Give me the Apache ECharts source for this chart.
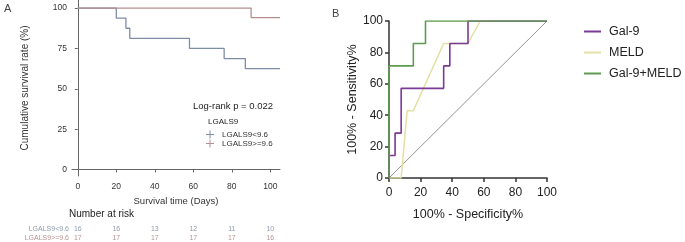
<!DOCTYPE html>
<html>
<head>
<meta charset="utf-8">
<script src="https://cdn.jsdelivr.net/npm/echarts@6/dist/echarts.min.js"></script>
<style>
  html, body { margin: 0; padding: 0; background: #fff; }
  #main { width: 685px; height: 242px; }
</style>
</head>
<body>
<div id="main"></div>
<script>
// ---- panel A: Kaplan-Meier ----
var kmTicksX = [0, 20, 40, 60, 80, 100];
var kmTicksY = [0, 25, 50, 75, 100];
var lowTimes = [0, 20, 25, 27, 58, 76, 87, 105];
var lowSurv = [100, 93.75, 87.5, 81.25, 75, 68.75, 62.5, 62.5];
var highTimes = [0, 90, 105];
var highSurv = [100, 94.1, 94.1];
var riskTimes = [0, 20, 40, 60, 80, 100];
var riskLow = [16, 16, 13, 12, 11, 10];
var riskHigh = [17, 17, 17, 17, 17, 16];

// ---- panel B: ROC ----
var gal9X = [0, 0, 3.85, 3.85, 7.69, 7.69, 34.6, 34.6, 38.5, 38.5, 50, 50, 100];
var gal9Y = [0, 14.3, 14.3, 28.6, 28.6, 57.1, 57.1, 71.4, 71.4, 85.7, 85.7, 100, 100];
var meldX = [0, 7.69, 11.5, 15.4, 34.6, 50, 57.7, 100];
var meldY = [0, 0, 42.9, 42.9, 85.7, 85.7, 100, 100];
var combX = [0, 0, 15.4, 15.4, 23.1, 23.1, 100];
var combY = [0, 71.4, 71.4, 85.7, 85.7, 100, 100];

var FONT = 'Liberation Sans, Arial, sans-serif';

function pairs(xs, ys) {
  return xs.map(function (x, i) { return [x, ys[i]]; });
}

var chart = echarts.init(document.getElementById('main'));

var option = {
  animation: false,
  textStyle: { fontFamily: FONT },
  grid: [
    { left: 72, top: 0, width: 208, height: 176 },
    { left: 389, top: 21, width: 158, height: 157 }
  ],
  xAxis: [
    {
      type: 'value', gridIndex: 0, min: -3, max: 105,
      name: 'Survival time (Days)', nameLocation: 'middle', nameGap: 20,
      nameTextStyle: { fontSize: 9.5, color: '#333' },
      axisLine: { show: true, lineStyle: { color: '#666', width: 1 } },
      axisTick: { show: true, length: 3, customValues: kmTicksX, lineStyle: { color: '#666' } },
      axisLabel: { customValues: kmTicksX, fontSize: 8.5, color: '#333', margin: 6 },
      splitLine: { show: false }
    },
    {
      type: 'value', gridIndex: 1, min: 0, max: 100, interval: 20,
      name: '100% - Specificity%', nameLocation: 'middle', nameGap: 30,
      nameTextStyle: { fontSize: 12.5, color: '#222' },
      axisLine: { show: true, onZero: false, lineStyle: { color: '#333', width: 1.5 } },
      axisTick: { show: true, length: 4, lineStyle: { color: '#333', width: 1.5 } },
      axisLabel: { fontSize: 12, color: '#222', margin: 9 },
      splitLine: { show: false }
    }
  ],
  yAxis: [
    {
      type: 'value', gridIndex: 0, min: -4, max: 105,
      name: 'Cumulative survival rate (%)', nameLocation: 'middle', nameGap: 42,
      nameTextStyle: { fontSize: 10, color: '#333' },
      axisLine: { show: true, lineStyle: { color: '#666', width: 1 } },
      axisTick: { show: true, length: 3, customValues: kmTicksY, lineStyle: { color: '#666' } },
      axisLabel: { customValues: kmTicksY, fontSize: 8.5, color: '#333', margin: 5 },
      splitLine: { show: false }
    },
    {
      type: 'value', gridIndex: 1, min: 0, max: 100, interval: 20,
      name: '100% - Sensitivity%', nameLocation: 'middle', nameGap: 30,
      nameTextStyle: { fontSize: 12.5, color: '#222' },
      axisLine: { show: true, onZero: false, lineStyle: { color: '#333', width: 1.5 } },
      axisTick: { show: true, length: 4, lineStyle: { color: '#333', width: 1.5 } },
      axisLabel: { fontSize: 12, color: '#222', margin: 6 },
      splitLine: { show: false }
    }
  ],
  legend: [
    {
      data: ['LGALS9<9.6', 'LGALS9>=9.6'],
      orient: 'vertical', left: 206, top: 130,
      itemWidth: 8, itemHeight: 8, itemGap: 0, padding: 0,
      icon: 'path://M3.5,0h1v3.5h3.5v1h-3.5v3.5h-1v-3.5h-3.5v-1h3.5z',
      textStyle: { fontSize: 8, color: '#333', lineHeight: 9, padding: [0, 0, 0, 3] }
    },
    {
      data: ['Gal-9', 'MELD', 'Gal-9+MELD'],
      orient: 'vertical', left: 579, top: 19,
      itemWidth: 17, itemHeight: 2, itemGap: 6, icon: 'rect',
      textStyle: { fontSize: 12.5, color: '#222', lineHeight: 15, padding: [0, 0, 0, 3] }
    }
  ],
  series: [
    {
      name: 'LGALS9<9.6', type: 'line', step: 'end', xAxisIndex: 0, yAxisIndex: 0,
      data: pairs(lowTimes, lowSurv), showSymbol: false,
      lineStyle: { color: '#7d8da6', width: 1.3 }, itemStyle: { color: '#7d8da6' }
    },
    {
      name: 'LGALS9>=9.6', type: 'line', step: 'end', xAxisIndex: 0, yAxisIndex: 0,
      data: pairs(highTimes, highSurv), showSymbol: false,
      lineStyle: { color: '#b58e8e', width: 1.3 }, itemStyle: { color: '#b58e8e' }
    },
    {
      name: 'ref', type: 'line', xAxisIndex: 1, yAxisIndex: 1,
      data: [[0, 0], [100, 100]], showSymbol: false,
      lineStyle: { color: '#777', width: 0.8 }
    },
    {
      name: 'MELD', type: 'line', xAxisIndex: 1, yAxisIndex: 1,
      data: pairs(meldX, meldY), showSymbol: false,
      lineStyle: { color: '#e4e0a4', width: 1.5 }, itemStyle: { color: '#e4e0a4' }
    },
    {
      name: 'Gal-9', type: 'line', xAxisIndex: 1, yAxisIndex: 1,
      data: pairs(gal9X, gal9Y), showSymbol: false,
      lineStyle: { color: '#7a3a96', width: 1.6 }, itemStyle: { color: '#7a3a96' }
    },
    {
      name: 'Gal-9+MELD', type: 'line', xAxisIndex: 1, yAxisIndex: 1,
      data: pairs(combX, combY), showSymbol: false,
      lineStyle: { color: '#5f9c52', width: 1.6 }, itemStyle: { color: '#5f9c52' }
    }
  ]
};

chart.setOption(option);

// text annotations and the number-at-risk table
var g = [];
function txt(text, x, y, size, color, align) {
  g.push({
    type: 'text', x: x, y: y, silent: true,
    style: {
      text: text, fontSize: size, fontFamily: FONT, fill: color,
      textAlign: align || 'left', textVerticalAlign: 'middle'
    }
  });
}
txt('A', 4, 9, 11, '#444');
txt('B', 332, 14, 11, '#444');
txt('Log-rank p = 0.022', 193, 106, 9.5, '#222');
txt('LGALS9', 208, 122, 8, '#222');
txt('Number at risk', 69, 214, 10, '#222');
txt('LGALS9<9.6', 69, 229, 7, '#8e9bb0', 'right');
txt('LGALS9>=9.6', 69, 238, 7, '#b99393', 'right');
riskTimes.forEach(function (t, i) {
  var px = chart.convertToPixel({ xAxisIndex: 0 }, t);
  txt(String(riskLow[i]), px, 229, 7, '#8e9bb0', 'center');
  txt(String(riskHigh[i]), px, 238, 7, '#b99393', 'center');
});
chart.setOption({ graphic: g });
</script>
</body>
</html>
